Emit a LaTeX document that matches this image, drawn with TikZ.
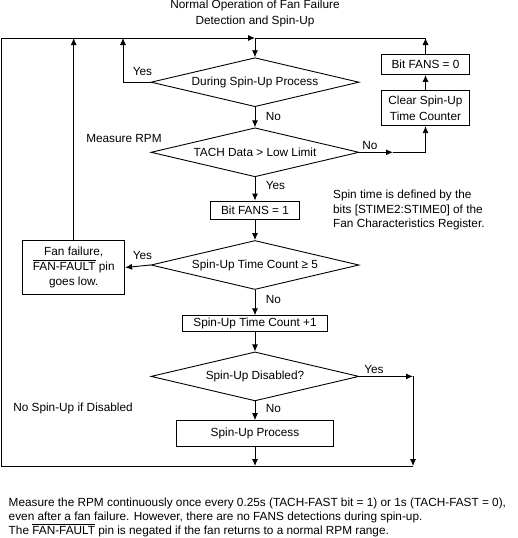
\documentclass[tikz,border=0pt]{standalone}
\usepackage{fontspec}
\setmainfont{Liberation Sans}
\usetikzlibrary{shapes.geometric,arrows.meta}

\newlength\barwd
\newcommand\barred[1]{\settowidth\barwd{#1}\rlap{\rule[9.9pt]{\barwd}{0.7pt}}#1}

\begin{document}
\begin{tikzpicture}[x=1pt,y=-1pt,line width=0.9pt,
  every node/.style={font=\fontsize{11.8}{14.3}\selectfont},
  box/.style={draw,inner sep=0pt,align=center},
  dia/.style={draw,diamond,aspect=4.2,inner sep=0pt,minimum width=208pt,minimum height=49pt},
  arr/.style={-{Latex[length=7pt,width=6pt]}}]
  \useasboundingbox (0,0) rectangle (518,538);

  \node[align=center,font=\fontsize{11.8}{15.7}\selectfont] (T) at (255,13.3) {Normal Operation of Fan Failure\\Detection and Spin-Up};

  \node[dia] (D1) at (255,82.2) {During Spin-Up Process};
  \node[dia] (D2) at (255,152.3) {TACH Data > Low Limit};
  \node[box,minimum width=88pt,minimum height=20pt] (B0) at (425.5,64.5) {Bit FANS = 0};
  \node[box,minimum width=88pt,minimum height=35pt] (C0) at (425.5,108.2) {Clear Spin-Up\\[1.6pt]Time Counter};
  \node[box,minimum width=89pt,minimum height=18.3pt] (B1) at (255,210.2) {Bit FANS = 1};
  \node[dia] (D3) at (255,265) {Spin-Up Time Count ≥ 5};
  \node[box,minimum width=102pt,minimum height=53.6pt,font=\fontsize{11.8}{14.6}\selectfont] (F) at (73.7,267.5) {Fan failure,\\\barred{FAN-FAULT} pin\\goes low.};
  \node[box,minimum width=144.6pt,minimum height=16pt] (B2) at (255,323.7) {Spin-Up Time Count +1};
  \node[dia] (D4) at (255,376.4) {Spin-Up Disabled?};
  \node[box,minimum width=157.3pt,minimum height=25.3pt] (P) at (255,433.3) {Spin-Up Process};

  \node (M) at (124,138) {Measure RPM};
  \node (N) at (73,408) {No Spin-Up if Disabled};
  \node[anchor=west,align=left,inner sep=0pt] (S) at (332.7,210) {Spin time is defined by the\\bits [STIME2:STIME0] of the\\Fan Characteristics Register.};
  \node[anchor=west,align=left,inner sep=0pt,font=\fontsize{11.8}{14}\selectfont] (R) at (8.3,517.3) {Measure the RPM continuously once every 0.25s (TACH-FAST bit = 1) or 1s (TACH-FAST = 0),\\even after a fan failure. However, there are no FANS detections during spin-up.\\The \barred{FAN-FAULT} pin is negated if the fan returns to a normal RPM range.};

  % yes / no labels
  \node (y1) at (142.5,71.7) {Yes};
  \node (n1) at (273.5,116.7) {No};
  \node (n2) at (370,145) {No};
  \node (y2) at (275.5,185.7) {Yes};
  \node (y3) at (142.5,255.7) {Yes};
  \node (n3) at (273.5,299) {No};
  \node (y4) at (374,369) {Yes};
  \node (n4) at (273.5,408.3) {No};

  \coordinate (TL) at (1,38);
  \coordinate (TM) at (255,38);
  \coordinate (TR) at (425.5,38);
  \coordinate (BL) at (1,466);
  \coordinate (BR) at (413,466);
  \coordinate (Y1) at (123,38);
  \coordinate (E2) at (393,152.3);
  \coordinate (E4) at (413,376.4);

  \draw[arr] (BR) -- (BL) -- (TL) -- (TM);
  \draw (TR) -- (TM);
  \draw[arr] (TM) -- (D1.north);
  \draw[arr] (D1.west) -| (Y1);
  \draw[arr] (D1.south) -- (D2.north);
  \draw[arr] (D2.east) -- (E2);
  \draw[arr] (E2) -| (C0.south);
  \draw[arr] (C0.north) -- (B0.south);
  \draw[arr] (B0.north) -- (TR);
  \draw[arr] (D2.south) -- (B1.north);
  \draw[arr] (B1.south) -- (D3.north);
  \draw[arr] (D3.west) -- (F.east);
  \draw[arr] (F.north) -- (F.north |- TL);
  \draw[arr] (D3.south) -- (B2.north);
  \draw[arr] (B2.south) -- (D4.north);
  \draw[arr] (D4.east) -- (E4);
  \draw[arr] (E4) -- (BR);
  \draw[arr] (D4.south) -- (P.north);
  \draw[arr] (P.south) -- (P.south |- BL);
\end{tikzpicture}
\end{document}
